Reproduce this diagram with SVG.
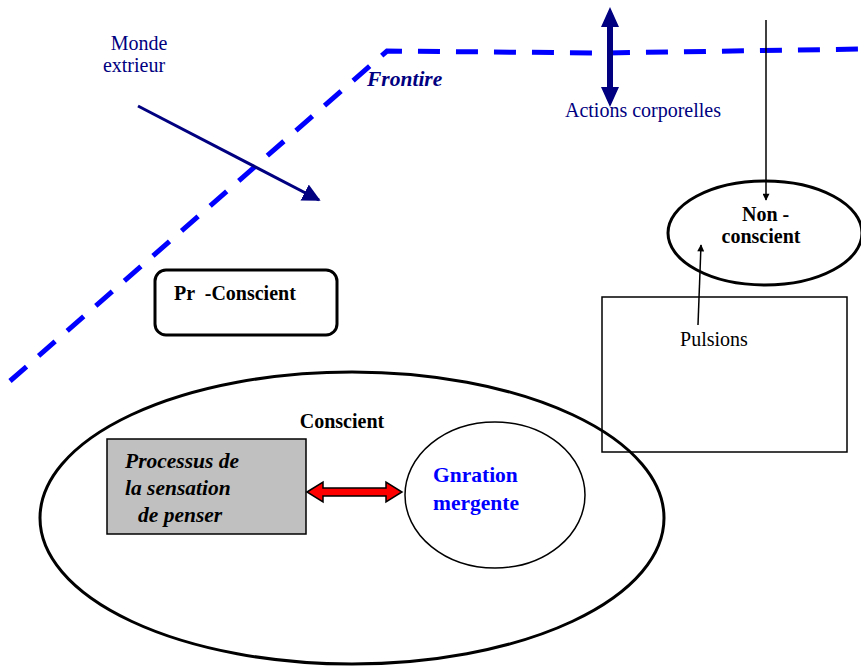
<svg xmlns="http://www.w3.org/2000/svg" width="861" height="666" viewBox="0 0 861 666">
  <style>
    text { font-family: "Liberation Serif", "Times New Roman", serif; }
    .navy { fill: #000080; font-size: 20px; }
    .bold { font-weight: bold; fill: #000; font-size: 20px; }
    .it { font-weight: bold; font-style: italic; fill: #000; font-size: 21.5px; }
    .blue { font-weight: bold; fill: #0000ff; font-size: 21.5px; }
    .frontier { fill: none; stroke: #0000ff; stroke-width: 5; stroke-dasharray: 22 16; }
  </style>
  <defs>
    <marker id="navyHead" viewBox="0 0 10 10" refX="9" refY="5" markerWidth="6" markerHeight="6" orient="auto" markerUnits="strokeWidth">
      <path d="M0,0 L10,5 L0,10 Z" fill="#000080"/>
    </marker>
    <marker id="blackHead" viewBox="0 0 10 10" refX="9" refY="5" markerWidth="9" markerHeight="7" orient="auto" markerUnits="userSpaceOnUse">
      <path d="M0,0 L10,5 L0,10 Z" fill="#000"/>
    </marker>
  </defs>

  <!-- boundary line -->
  <polyline class="frontier" points="10,381 387,51 600,53 861,49"/>

  <g id="monde">
    <text class="navy" x="139" y="50" text-anchor="middle">Monde</text>
    <text class="navy" x="134" y="72" text-anchor="middle">extrieur</text>
  </g>

  <g id="frontiere">
    <text x="367" y="86" font-weight="bold" font-style="italic" fill="#000080" font-size="21.5">Frontire</text>
  </g>

  <g id="actions">
    <text class="navy" x="643" y="117" text-anchor="middle">Actions corporelles</text>
  </g>

  <g id="non-conscient">
    <ellipse cx="765" cy="233" rx="97" ry="52" fill="none" stroke="#000" stroke-width="3"/>
    <text class="bold" x="742" y="221">Non -</text>
    <text class="bold" x="761" y="243" text-anchor="middle">conscient</text>
  </g>

  <g id="pulsions-box">
    <rect x="602" y="297" width="245" height="155" fill="none" stroke="#000" stroke-width="1.5"/>
    <text x="714" y="346" text-anchor="middle" font-size="20" fill="#000">Pulsions</text>
  </g>

  <g id="pre-conscient">
    <rect x="155" y="270" width="182" height="65" rx="11" ry="11" fill="#fff" stroke="#000" stroke-width="3"/>
    <text class="bold" x="174" y="300" xml:space="preserve">Pr  -Conscient</text>
  </g>

  <g id="conscient">
    <ellipse cx="352" cy="518" rx="312" ry="146" fill="none" stroke="#000" stroke-width="3"/>
    <text class="bold" x="342" y="428" text-anchor="middle">Conscient</text>
  </g>

  <g id="processus">
    <rect x="107" y="439" width="199" height="95" fill="#c0c0c0" stroke="#000" stroke-width="1.5"/>
    <text class="it" x="125" y="468">Processus de</text>
    <text class="it" x="125" y="495">la sensation</text>
    <text class="it" x="138" y="522">de penser</text>
  </g>

  <g id="generation">
    <ellipse cx="495" cy="495" rx="90" ry="73" fill="#fff" stroke="#000" stroke-width="1.5"/>
    <text class="blue" x="433" y="482">Gnration</text>
    <text class="blue" x="433" y="510">mergente</text>
  </g>

  <g id="connectors">
    <!-- world -> inside -->
    <line x1="138" y1="106" x2="319" y2="200" stroke="#000080" stroke-width="3" marker-end="url(#navyHead)"/>
    <!-- bodily actions, two-way -->
    <path d="M610,7 L619,27 L613,27 L613,87 L619,87 L610,107 L601,87 L607,87 L607,27 L601,27 Z" fill="#000080"/>
    <!-- into non-conscient -->
    <line x1="766" y1="20" x2="766" y2="200" stroke="#000" stroke-width="1.5" marker-end="url(#blackHead)"/>
    <!-- drives -> non-conscient -->
    <line x1="698" y1="325" x2="701" y2="245" stroke="#000" stroke-width="1.5" marker-end="url(#blackHead)"/>
    <!-- process <-> generation -->
    <path d="M307,492 L323,482 L323,488 L386,488 L386,482 L402,492 L386,502 L386,496 L323,496 L323,502 Z" fill="#ff0000" stroke="#000" stroke-width="1.5" stroke-linejoin="miter"/>
  </g>
</svg>
